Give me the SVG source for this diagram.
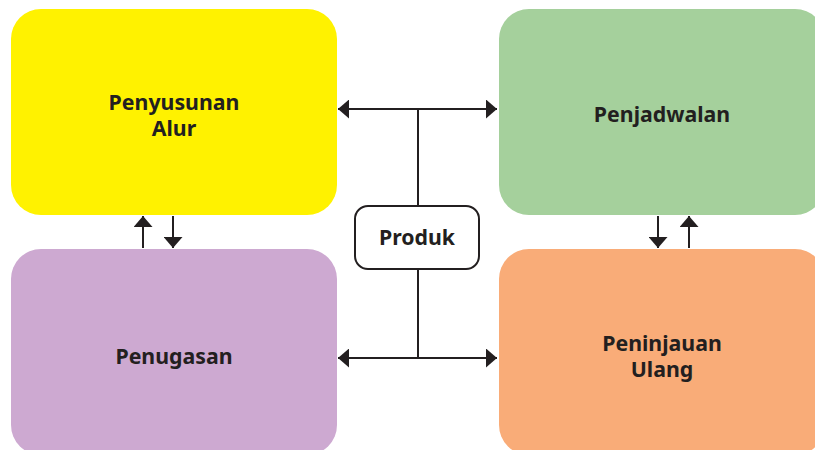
<svg xmlns="http://www.w3.org/2000/svg" width="815" height="450" viewBox="0 0 815 450">
  <style>
    .lbl { font-family: "Noto Sans", "Open Sans", "Liberation Sans", sans-serif; font-weight: bold; font-size: 21.3px; fill: #231f20; text-anchor: middle; }
    .ln { stroke: #231f20; stroke-width: 2; fill: none; }
  </style>
  <defs>
    <marker id="head" viewBox="0 0 11 19" refX="11" refY="9.5" markerWidth="11" markerHeight="19" markerUnits="userSpaceOnUse" orient="auto-start-reverse">
      <path d="M0,0 L11,9.5 L0,19 Z" fill="#231f20"/>
    </marker>
  </defs>
  <rect width="815" height="450" fill="#ffffff"/>

  <g id="penyusunan-alur">
    <rect x="11" y="9" width="326" height="206" rx="30" fill="#fff200"/>
    <text class="lbl" x="174" y="110">Penyusunan<tspan x="174" dy="26">Alur</tspan></text>
  </g>

  <g id="penjadwalan">
    <rect x="499" y="9" width="326" height="206" rx="30" fill="#a5d09c"/>
    <text class="lbl" x="662" y="122">Penjadwalan</text>
  </g>

  <g id="penugasan">
    <rect x="11" y="249" width="326" height="206" rx="30" fill="#cda9d1"/>
    <text class="lbl" x="174" y="364">Penugasan</text>
  </g>

  <g id="peninjauan-ulang">
    <rect x="499" y="249" width="326" height="206" rx="30" fill="#f9ac78"/>
    <text class="lbl" x="662" y="351">Peninjauan<tspan x="662" dy="26">Ulang</tspan></text>
  </g>

  <g id="produk">
    <rect x="355" y="206" width="124" height="63" rx="13" fill="#ffffff" stroke="#231f20" stroke-width="2"/>
    <text class="lbl" x="417" y="245">Produk</text>
  </g>

  <g id="connectors">
    <!-- hub lines from Produk -->
    <line class="ln" x1="418" y1="206" x2="418" y2="109"/>
    <line class="ln" x1="418" y1="269" x2="418" y2="358"/>
    <line class="ln" x1="338" y1="109" x2="497" y2="109" marker-start="url(#head)" marker-end="url(#head)"/>
    <line class="ln" x1="338" y1="358" x2="497" y2="358" marker-start="url(#head)" marker-end="url(#head)"/>
    <!-- left column pair -->
    <line class="ln" x1="143" y1="248" x2="143" y2="216" marker-end="url(#head)"/>
    <line class="ln" x1="173" y1="216" x2="173" y2="248" marker-end="url(#head)"/>
    <!-- right column pair -->
    <line class="ln" x1="658" y1="216" x2="658" y2="248" marker-end="url(#head)"/>
    <line class="ln" x1="689" y1="248" x2="689" y2="216" marker-end="url(#head)"/>
  </g>
</svg>
